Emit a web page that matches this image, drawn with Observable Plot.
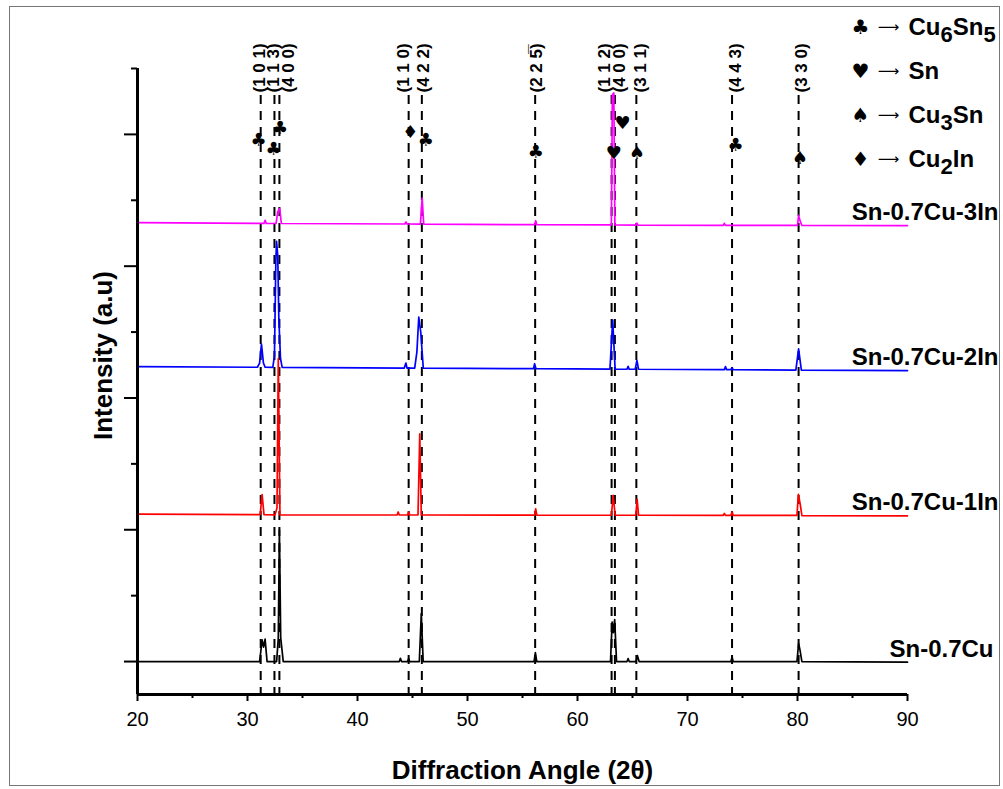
<!DOCTYPE html>
<html>
<head>
<meta charset="utf-8">
<script src="https://cdn.jsdelivr.net/npm/d3@7"></script>
<script src="https://cdn.jsdelivr.net/npm/@observablehq/plot@0.6"></script>
<style>
  body { margin: 0; background: #fff; }
  #wrap { position: relative; width: 1003px; height: 789px; }
  #border { position: absolute; left: 9px; top: 6px; width: 989px; height: 778px; border: 1px solid #777; pointer-events: none; }
</style>
</head>
<body>
<div id="wrap"><div id="border"></div></div>
<script>
// ---- data (2θ in degrees, intensity in arbitrary counts, stacked offsets included) ----
const sampleNames = ["Sn-0.7Cu", "Sn-0.7Cu-1In", "Sn-0.7Cu-2In", "Sn-0.7Cu-3In"];
const sampleColors = ["#000000", "#ff0000", "#0000ff", "#ff00ff"];

const snCu = [[20,0],[31.1,0],[31.33,165],[31.46,110],[31.6,170],[31.78,0],[32.65,0],[32.8,180],[32.9,1000],[33.02,180],[33.25,0],[43.8,0],[43.9,25],[44.0,0],[44.55,0],[44.65,22],[44.75,0],[45.62,0],[45.8,364],[45.97,0],[56.05,0],[56.17,68],[56.3,0],[63.0,0],[63.15,300],[63.26,220],[63.38,318],[63.55,0],[64.5,0],[64.6,22],[64.7,0],[65.32,0],[65.45,45],[65.6,0],[73.95,0],[74.05,35],[74.15,0],[79.95,0],[80.1,137],[80.22,90],[80.4,0],[90,-5]];
const snCu1In = [[20,1118],[31.15,1115],[31.33,1267],[31.5,1115],[32.5,1113],[32.68,1165],[32.8,2299],[32.95,1113],[43.6,1112],[43.7,1135],[43.8,1112],[44.55,1112],[44.65,1135],[44.75,1112],[45.5,1112],[45.66,1728],[45.8,1112],[56.1,1111],[56.2,1158],[56.3,1111],[63.08,1110],[63.25,1262],[63.42,1110],[65.3,1110],[65.42,1231],[65.55,1110],[73.25,1109],[73.35,1124],[73.45,1109],[73.95,1109],[74.05,1136],[74.15,1109],[79.95,1109],[80.08,1268],[80.25,1192],[80.4,1108],[90,1106]];
const snCu2In = [[20,2238],[30.9,2233],[31.1,2265],[31.27,2408],[31.45,2265],[31.6,2233],[32.3,2232],[32.45,2320],[32.58,3050],[32.64,3188],[32.75,3080],[32.85,2600],[33.0,2300],[33.15,2232],[44.25,2227],[44.4,2265],[44.5,2227],[45.2,2227],[45.4,2350],[45.57,2614],[45.75,2500],[45.98,2227],[56.0,2222],[56.1,2260],[56.22,2222],[62.95,2219],[63.2,2591],[63.42,2219],[64.5,2218],[64.6,2240],[64.7,2218],[65.25,2218],[65.4,2286],[65.55,2218],[73.35,2215],[73.45,2238],[73.55,2215],[73.95,2215],[74.05,2230],[74.15,2215],[79.85,2212],[80.1,2372],[80.35,2212],[90,2208]];
const snCu3In = [[20,3331],[31.5,3325],[31.6,3348],[31.7,3325],[32.6,3324],[32.75,3414],[32.92,3438],[33.08,3324],[44.3,3320],[44.4,3335],[44.5,3320],[45.72,3319],[45.88,3516],[46.02,3319],[56.1,3315],[56.2,3345],[56.3,3315],[63.08,3313],[63.17,4300],[63.3,4315],[63.4,3313],[65.3,3312],[65.4,3327],[65.5,3312],[73.25,3310],[73.35,3325],[73.45,3310],[80.0,3309],[80.1,3385],[80.25,3340],[80.4,3309],[90,3308]];
const samplePoints = [snCu, snCu1In, snCu2In, snCu3In];

// reference (dashed) peak positions
const refAngles = [31.2, 32.45, 32.9, 44.65, 45.85, 56.15, 63.1, 63.4, 65.35, 74.05, 80.1];
// Miller-index labels and where they sit
const hklLabels = ["(1 0 1)", "(1 1 3)", "(4 0 0)", "(1 1 0)", "(4 2 2)", "(2 2 5\u0305)", "(1 1 2)", "(4 0 0)", "(3 1 1)", "(4 4 3)", "(3 3 0)"];
const hklAngles = [31.1, 32.36, 33.7, 44.2, 46.0, 56.3, 62.45, 63.8, 65.7, 74.36, 80.36];

// phase markers over the peaks
const markerSymbols = ["♣", "♣", "♣", "♦", "♣", "♣", "♥", "♥", "♠", "♣", "♠"];
const markerAngles = [31.0, 32.36, 32.95, 44.8, 46.2, 56.2, 63.3, 64.1, 65.4, 74.36, 80.2];
const markerHeights = [3953, 3885, 4045, 4014, 3953, 3862, 3855, 4082, 3855, 3915, 3817];

// legend
const legendSymbols = ["♣", "♥", "♠", "♦"];
const legendPhases = ["Cu6Sn5", "Sn", "Cu3Sn", "Cu2In"];

// axis ticks
const xMajor = [20, 30, 40, 50, 60, 70, 80, 90];
const xMinor = [25, 35, 45, 55, 65, 75, 85];
const yMajor = [0, 1000, 2000, 3000, 4000];
const yMinor = [500, 1500, 2500, 3500, 4500];

// ---- build tables ----
const series = sampleNames.map((name, i) => samplePoints[i].map(([a, v]) => ({sample: name, angle: a, intensity: v})));
const hkl = hklLabels.map((t, i) => ({text: t, angle: hklAngles[i]}));
const markers = markerSymbols.map((s, i) => ({symbol: s, angle: markerAngles[i], intensity: markerHeights[i]}));

const bold = "bold";
const symFont = "'DejaVu Sans', sans-serif";
const marks = [];

// dashed reference lines
marks.push(Plot.ruleX(refAngles, {stroke: "#000", strokeWidth: 2, strokeDasharray: "9,7", insetTop: 27}));
// traces
series.forEach((pts, i) => {
  marks.push(Plot.line(pts, {x: "angle", y: "intensity", stroke: sampleColors[i], strokeWidth: 1.7, curve: "linear"}));
});
// sample labels at the right end
series.forEach((pts, i) => {
  marks.push(Plot.text([pts[pts.length - 1]], {
    x: "angle", y: "intensity", text: () => sampleNames[i],
    textAnchor: "end", lineAnchor: "middle", dx: i === 0 ? 86 : 91, dy: -13,
    fontSize: 24, fontWeight: bold, fill: "#000"
  }));
});
// hkl labels
marks.push(Plot.text(hkl, {
  x: "angle", text: "text", frameAnchor: "top", dy: 24, rotate: -90,
  textAnchor: "start", lineAnchor: "middle", fontSize: 17, fontWeight: bold, fill: "#000"
}));
// phase markers
marks.push(Plot.text(markers, {
  x: "angle", y: "intensity", text: "symbol", fontSize: 18, lineAnchor: "middle", textAnchor: "middle",
  fontFamily: symFont, fill: "#000"
}));

// axes
const noText = () => "";
marks.push(Plot.axisY(yMajor, {anchor: "left", tickSize: 13, strokeWidth: 2, tickFormat: noText, label: null}));
marks.push(Plot.axisY(yMinor, {anchor: "left", tickSize: 6, strokeWidth: 2, tickFormat: noText, label: null}));
marks.push(Plot.axisX(xMinor, {anchor: "bottom", tickSize: 4, strokeWidth: 2, tickFormat: noText, label: null}));
marks.push(Plot.axisX(xMajor, {anchor: "bottom", tickSize: 7, strokeWidth: 2, tickPadding: 10, fontSize: 20, label: null, color: "#000"}));
marks.push(Plot.ruleX([20], {stroke: "#000", strokeWidth: 3}));
marks.push(Plot.ruleY([-250], {stroke: "#000", strokeWidth: 3}));

// axis titles
marks.push(Plot.text(["Diffraction Angle (2θ)"], {text: d => d, frameAnchor: "bottom", dy: 76, lineAnchor: "middle", textAnchor: "middle", fontSize: 26, fontWeight: bold, fill: "#000"}));
marks.push(Plot.text(["Intensity (a.u)"], {text: d => d, frameAnchor: "left", dx: -34, dy: -26, rotate: -90, lineAnchor: "middle", textAnchor: "middle", fontSize: 26, fontWeight: bold, fill: "#000"}));

// legend (top right)
legendSymbols.forEach((s, i) => {
  const dy = -41 + 44 * i;
  marks.push(Plot.text([s], {text: d => d, frameAnchor: "top-right", dx: -47, dy, textAnchor: "middle", lineAnchor: "middle", fontSize: 20, fontFamily: symFont, fill: "#000"}));
  marks.push(Plot.text(["⟶"], {text: d => d, frameAnchor: "top-right", dx: -19, dy, textAnchor: "middle", lineAnchor: "middle", fontSize: 15, fontFamily: symFont, fill: "#000"}));
  marks.push(Plot.text([legendPhases[i]], {text: d => d, frameAnchor: "top-right", dx: 1, dy, textAnchor: "start", lineAnchor: "middle", fontSize: 24, fontWeight: bold, fill: "#000", className: "phase-legend"}));
});

const chart = Plot.plot({
  width: 1003, height: 789,
  marginLeft: 137, marginRight: 96, marginTop: 68, marginBottom: 95,
  x: {domain: [20, 90], axis: null},
  y: {domain: [-250, 4500], axis: null},
  style: {fontFamily: "'Liberation Sans', Arial, sans-serif", background: "transparent", overflow: "visible", color: "#000"},
  marks
});

// subscripts in the phase formulas
d3.select(chart).selectAll(".phase-legend text").each(function () {
  const t = this.textContent;
  const sel = d3.select(this);
  sel.text(null);
  let shifted = false;
  t.split(/(\d+)/).filter(s => s.length).forEach(part => {
    const isNum = /^\d+$/.test(part);
    const ts = sel.append("tspan").text(part);
    if (isNum && !shifted) { ts.attr("dy", 7).attr("font-size", 22); shifted = true; }
    else if (isNum) { ts.attr("font-size", 22); }
    else if (shifted) { ts.attr("dy", -7); shifted = false; }
  });
});

document.getElementById("wrap").prepend(chart);
</script>
</body>
</html>
